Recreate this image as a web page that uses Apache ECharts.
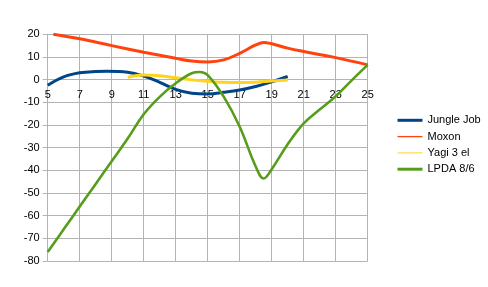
<!DOCTYPE html>
<html>
<head>
<meta charset="utf-8">
<script src="https://cdn.jsdelivr.net/npm/echarts@6/dist/echarts.min.js"></script>
<style>
html,body{margin:0;padding:0;background:#fff;}
#c{width:488px;height:287px;}
</style>
</head>
<body>
<div id="c"></div>
<script>
var seriesNames = ['Jungle Job', 'Moxon', 'Yagi 3 el', 'LPDA 8/6'];
var xTicks = [5, 7, 9, 11, 13, 15, 17, 19, 21, 23, 25];
var yTicks = [-80, -70, -60, -50, -40, -30, -20, -10, 0, 10, 20];

var jungleX = [5, 6, 7, 8, 8.7, 10, 11, 12, 13, 14, 15, 16, 17, 18, 19, 20];
var jungleY = [-2.5, 1.2, 3.0, 3.6, 3.7, 3.3, 1.6, -1.2, -4.3, -6.0, -6.3, -5.6, -4.6, -3.0, -1.0, 1.4];

var moxonX = [5.35, 7, 9, 11, 13, 14, 15, 16, 17, 18, 18.5, 19, 20, 21, 23, 25];
var moxonY = [20, 18.0, 15.0, 12.1, 9.4, 8.2, 7.8, 8.7, 11.6, 15.3, 16.4, 15.8, 13.9, 12.4, 9.7, 6.5];

var yagiX = [10, 11, 12, 13, 14, 15, 16, 17, 18, 19, 20];
var yagiY = [1.0, 2.0, 1.7, 0.8, -0.1, -0.7, -1.2, -1.3, -1.1, -0.6, -0.2];

var lpdaX = [5, 6, 7, 8, 9, 10, 11, 12, 13, 14, 14.5, 15, 16, 17, 18, 18.5, 19, 20, 21, 22, 23, 24, 25];
var lpdaY = [-76, -66, -56, -46, -36, -26, -15.3, -7.6, -1.6, 2.8, 3.4, 2.0, -7.5, -20.8, -38.3, -43.6, -39.5, -28.5, -19.3, -13.2, -7.3, -0.3, 6.5];

function pairs(xs, ys) { return xs.map(function (x, i) { return [x, ys[i]]; }); }

var colors = ['#004586', '#ff420e', '#ffd320', '#579d1c'];
var legendWidths = [3, 1.3, 1, 3];
var lineWidths = [3, 3, 3, 2.6];
var datasets = [pairs(jungleX, jungleY), pairs(moxonX, moxonY), pairs(yagiX, yagiY), pairs(lpdaX, lpdaY)];

var gridTop = 34.3, gridBottom = 26, H = 287;
var yMin = yTicks[0], yMax = yTicks[yTicks.length - 1];
var plotH = H - gridTop - gridBottom;
var zeroOffset = -plotH * (0 - yMin) / (yMax - yMin);

var chart = echarts.init(document.getElementById('c'), null, {renderer: 'canvas'});
chart.setOption({
  animation: false,
  backgroundColor: '#ffffff',
  textStyle: {fontFamily: 'Liberation Sans'},
  grid: {left: 47.7, right: 120.3, top: gridTop, bottom: gridBottom},
  legend: {
    orient: 'vertical',
    left: 396,
    top: 114.8,
    padding: 0,
    itemWidth: 25,
    itemHeight: 11,
    itemGap: 5.3,
    textStyle: {fontSize: 11, color: '#000', fontFamily: 'Liberation Sans'},
    data: seriesNames.map(function (n, i) {
      return {
        name: n,
        lineStyle: {width: legendWidths[i], color: colors[i]},
        itemStyle: {color: 'rgba(0,0,0,0)', borderWidth: 0, opacity: 0}
      };
    })
  },
  xAxis: {
    type: 'value',
    min: xTicks[0],
    max: xTicks[xTicks.length - 1],
    interval: xTicks[1] - xTicks[0],
    offset: zeroOffset,
    axisLine: {onZero: false, lineStyle: {color: '#b3b3b3', width: 1}},
    axisTick: {show: false},
    axisLabel: {fontSize: 11, color: '#000', margin: 9.5, fontFamily: 'Liberation Sans'},
    splitLine: {show: true, lineStyle: {color: '#b3b3b3', width: 1}}
  },
  yAxis: {
    type: 'value',
    min: yMin,
    max: yMax,
    interval: yTicks[1] - yTicks[0],
    axisLine: {show: true, lineStyle: {color: '#b3b3b3', width: 1}},
    axisTick: {show: true, length: 5, lineStyle: {color: '#b3b3b3'}},
    axisLabel: {fontSize: 11, color: '#000', margin: 8, fontFamily: 'Liberation Sans'},
    splitLine: {show: true, lineStyle: {color: '#b3b3b3', width: 1}}
  },
  series: seriesNames.map(function (n, i) {
    return {
      name: n,
      type: 'line',
      data: datasets[i],
      smooth: 0.4,
      symbol: 'none',
      showSymbol: false,
      lineStyle: {color: colors[i], width: lineWidths[i]},
      itemStyle: {color: colors[i]}
    };
  })
});
</script>
</body>
</html>
